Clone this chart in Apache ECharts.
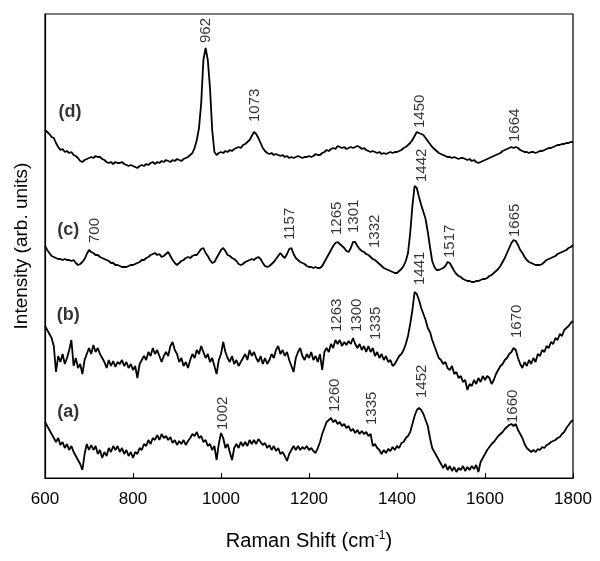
<!DOCTYPE html>
<html>
<head>
<meta charset="utf-8">
<script src="https://cdn.jsdelivr.net/npm/echarts@6/dist/echarts.min.js"></script>
<style>
html,body{margin:0;padding:0;background:#fff;}
#chart{width:600px;height:561px;}
</style>
</head>
<body>
<div id="chart"></div>
<script>
// Raman shift grid (cm^-1)
const shifts = [
600,605,610,615,620,625,630,635,640,645,650,655,660,665,670,675,680,685,690,695,
700,705,710,715,720,725,730,735,740,745,750,755,760,765,770,775,780,785,790,795,
800,805,810,815,820,825,830,835,840,845,850,855,860,865,870,875,880,885,890,895,
900,905,910,915,920,925,930,935,940,945,950,955,960,965,970,975,980,985,990,995,
1000,1005,1010,1015,1020,1025,1030,1035,1040,1045,1050,1055,1060,1065,1070,1075,1080,1085,1090,1095,
1100,1105,1110,1115,1120,1125,1130,1135,1140,1145,1150,1155,1160,1165,1170,1175,1180,1185,1190,1195,
1200,1205,1210,1215,1220,1225,1230,1235,1240,1245,1250,1255,1260,1265,1270,1275,1280,1285,1290,1295,
1300,1305,1310,1315,1320,1325,1330,1335,1340,1345,1350,1355,1360,1365,1370,1375,1380,1385,1390,1395,
1400,1405,1410,1415,1420,1425,1430,1435,1440,1445,1450,1455,1460,1465,1470,1475,1480,1485,1490,1495,
1500,1505,1510,1515,1520,1525,1530,1535,1540,1545,1550,1555,1560,1565,1570,1575,1580,1585,1590,1595,
1600,1605,1610,1615,1620,1625,1630,1635,1640,1645,1650,1655,1660,1665,1670,1675,1680,1685,1690,1695,
1700,1705,1710,1715,1720,1725,1730,1735,1740,1745,1750,1755,1760,1765,1770,1775,1780,1785,1790,1795,1800
];

// Offset intensities (arb. units) for each spectrum
const traceA = [
56,52,48,44,40,36,40,33,36,30,34,28,32,26,22,18,14,8,24,34,
28,33,28,32,24,28,20,26,22,30,26,32,28,32,26,30,24,28,22,26,
20,26,24,30,28,34,32,38,34,40,38,43,38,44,40,42,38,41,35,38,
33,37,34,38,33,37,40,44,42,46,40,42,36,38,32,34,28,32,18,34,
45,40,30,34,26,18,30,34,30,36,32,36,32,38,34,38,34,39,36,33,
35,30,33,28,32,27,30,24,26,22,17,24,28,32,28,32,28,31,29,32,
28,30,27,25,30,36,44,50,56,58,60,56,58,54,56,52,54,50,52,47,
49,45,48,44,47,44,46,42,44,32,34,30,28,24,28,25,29,27,31,28,
32,30,35,36,40,42,46,54,62,68,70,68,64,58,52,40,30,26,22,18,
14,10,14,8,12,7,11,6,10,8,12,7,11,8,12,9,13,6,16,20,
24,28,31,34,36,39,42,44,46,49,51,53,54,52,54,48,44,40,34,30,
28,26,28,26,29,28,31,30,33,34,36,37,38,40,41,44,46,50,53,56,58
];
const traceB = [
152,148,144,140,132,106,122,116,124,114,120,128,138,112,120,110,114,104,118,124,
130,124,133,126,130,124,120,116,110,118,112,117,111,116,114,118,112,116,110,114,
108,112,100,114,118,122,118,126,122,130,124,128,122,116,122,126,122,132,136,128,
124,116,120,112,116,110,118,124,120,128,124,132,126,120,124,116,120,112,104,118,
124,136,126,120,116,122,114,118,112,116,120,124,118,128,122,126,120,116,122,114,
120,114,118,124,120,128,132,124,128,122,126,118,112,106,120,126,130,122,118,124,
120,126,118,122,116,124,108,126,130,126,134,130,138,134,138,132,136,133,137,134,
140,134,130,134,128,132,126,132,126,130,122,126,120,124,118,122,116,118,112,114,
118,122,124,128,134,142,154,168,186,184,178,170,164,158,150,146,138,132,126,120,
118,114,116,110,108,112,104,106,100,102,96,98,88,94,92,98,94,100,96,102,
98,102,100,94,98,104,108,112,114,118,120,124,126,130,128,120,114,110,116,112,
118,114,120,116,124,122,128,126,132,130,136,134,140,138,144,142,148,150,152,155,157
];
const traceC = [
232,228,225,222,221,220,219,219,218,219,218,218,217,218,215,213,214,216,219,224,
228,226,225,223,223,221,220,219,218,217,215,215,213,213,212,211,211,211,212,213,
213,214,215,216,218,218,220,221,223,224,225,223,224,221,222,224,226,222,218,215,
213,215,217,218,220,221,220,222,223,223,226,229,230,225,222,218,215,216,220,224,
228,230,227,223,222,220,219,217,214,213,214,216,217,218,219,218,220,221,219,215,
212,211,212,214,216,219,222,225,222,220,224,229,230,224,220,218,216,215,214,212,
211,211,210,211,210,210,212,216,220,224,228,232,235,236,234,232,230,227,226,230,
236,236,232,229,227,226,224,223,221,219,218,216,214,212,210,209,208,207,206,205,
205,207,209,212,217,225,245,272,292,290,281,273,266,259,246,231,217,211,208,208,
209,210,212,216,215,211,207,204,202,201,199,198,197,197,196,196,197,197,198,199,
199,200,202,203,205,207,209,212,216,220,225,230,235,238,237,233,228,225,221,218,
216,215,214,213,213,213,214,216,218,219,220,221,222,224,225,226,227,228,230,231,233
];
const traceD = [
348,346,344,341,340,335,331,328,329,326,327,325,326,323,322,320,317,316,318,319,
320,321,320,322,321,321,319,318,316,315,316,314,316,315,315,316,314,313,312,313,
312,311,310,312,313,312,314,313,315,316,314,316,315,317,316,318,317,316,318,317,
319,318,317,319,320,321,323,325,330,338,350,375,418,430,418,390,348,326,323,325,
326,325,327,326,328,327,329,330,331,330,333,334,336,338,342,346,344,340,335,330,
327,325,324,325,323,324,323,322,323,321,322,320,321,320,321,322,321,320,321,321,
322,321,322,324,323,323,325,326,328,327,329,330,329,332,331,330,331,329,330,331,
330,331,332,331,329,330,328,327,326,327,326,325,326,324,325,324,325,326,325,326,
326,327,328,330,331,333,335,338,342,346,345,344,343,340,337,334,331,329,327,325,
324,323,322,321,321,320,321,320,319,320,320,319,318,319,317,318,316,315,316,317,
318,319,320,321,322,323,324,325,327,328,329,330,331,330,331,330,328,327,326,326,
325,326,326,325,326,327,327,328,329,330,330,331,332,333,333,334,334,335,335,336,336
];

// Trace tags
const tagNames = ['(a)', '(b)', '(c)', '(d)'];
const tagX = [653, 653, 653, 657];
const tagY = [66, 163, 248, 366];

// Peak annotations: label, shift position, intensity at text start
const peakNames = ['962','1073','1450','1664',
  '700','1157','1265','1301','1332','1442','1517','1665',
  '1263','1300','1335','1441','1670',
  '1002','1260','1335','1452','1660'];
const peakX = [966,1077,1452,1668,
  714,1157,1264,1302,1350,1457,1520,1668,
  1264,1309,1352,1452,1673,
  1005,1259,1343,1457,1664];
const peakY = [435,356,350,336,
  235,238,243,245,230,296,220,241,
  146,146,138,193,140,
  48,66,53,80,55];

const FONT = "'Liberation Sans', Arial, Helvetica, sans-serif";
const INK = '#000';

function pairs(vals) { return shifts.map((x, i) => [x, vals[i]]); }

const traces = [traceA, traceB, traceC, traceD];
const lineSeries = traces.map(t => ({
  type: 'line',
  data: pairs(t),
  showSymbol: false,
  symbol: 'none',
  silent: true,
  lineStyle: { color: INK, width: 1.8 },
  z: 3
}));

const tagSeries = {
  type: 'scatter',
  symbolSize: 0,
  silent: true,
  data: tagNames.map((n, i) => ({ name: n, value: [tagX[i], tagY[i]] })),
  label: {
    show: true, position: 'inside', formatter: p => p.name,
    fontFamily: FONT, fontSize: 18, fontWeight: 'bold', color: INK
  },
  z: 5
};

const peakSeries = {
  type: 'scatter',
  symbolSize: 0,
  silent: true,
  data: peakNames.map((n, i) => ({ name: n, value: [peakX[i], peakY[i]] })),
  label: {
    show: true, position: [0, 0], rotate: 90, align: 'left', verticalAlign: 'middle',
    formatter: p => p.name, fontFamily: FONT, fontSize: 15, color: INK
  },
  z: 5
};

const chart = echarts.init(document.getElementById('chart'), null, { renderer: 'canvas' });
chart.setOption({
  animation: false,
  backgroundColor: '#fff',
  grid: { left: 45, right: 27, top: 14, bottom: 83, show: true, borderColor: INK, borderWidth: 1.2, backgroundColor: 'transparent' },
  xAxis: {
    type: 'value', min: 600, max: 1800, interval: 200,
    axisLine: { show: true, lineStyle: { color: INK, width: 1.2 } },
    axisTick: { show: true, inside: true, length: 5, lineStyle: { color: INK } },
    axisLabel: { fontFamily: FONT, fontSize: 17, color: INK, margin: 13, formatter: v => String(v) },
    splitLine: { show: false },
    name: 'Raman Shift (cm{sup|-1})',
    nameLocation: 'middle', nameGap: 52,
    nameTextStyle: { fontFamily: FONT, fontSize: 20, color: INK,
      rich: { sup: { fontFamily: FONT, fontSize: 12, color: INK, padding: [0, 0, 10, 0] } } }
  },
  yAxis: {
    type: 'value', min: 0, max: 464,
    axisLine: { show: true, lineStyle: { color: INK, width: 1.2 } },
    axisTick: { show: false },
    axisLabel: { show: false },
    splitLine: { show: false },
    name: 'Intensity (arb. units)',
    nameLocation: 'middle', nameGap: 14,
    nameTextStyle: { fontFamily: FONT, fontSize: 19, color: INK }
  },
  series: [...lineSeries, tagSeries, peakSeries]
});
</script>
</body>
</html>
